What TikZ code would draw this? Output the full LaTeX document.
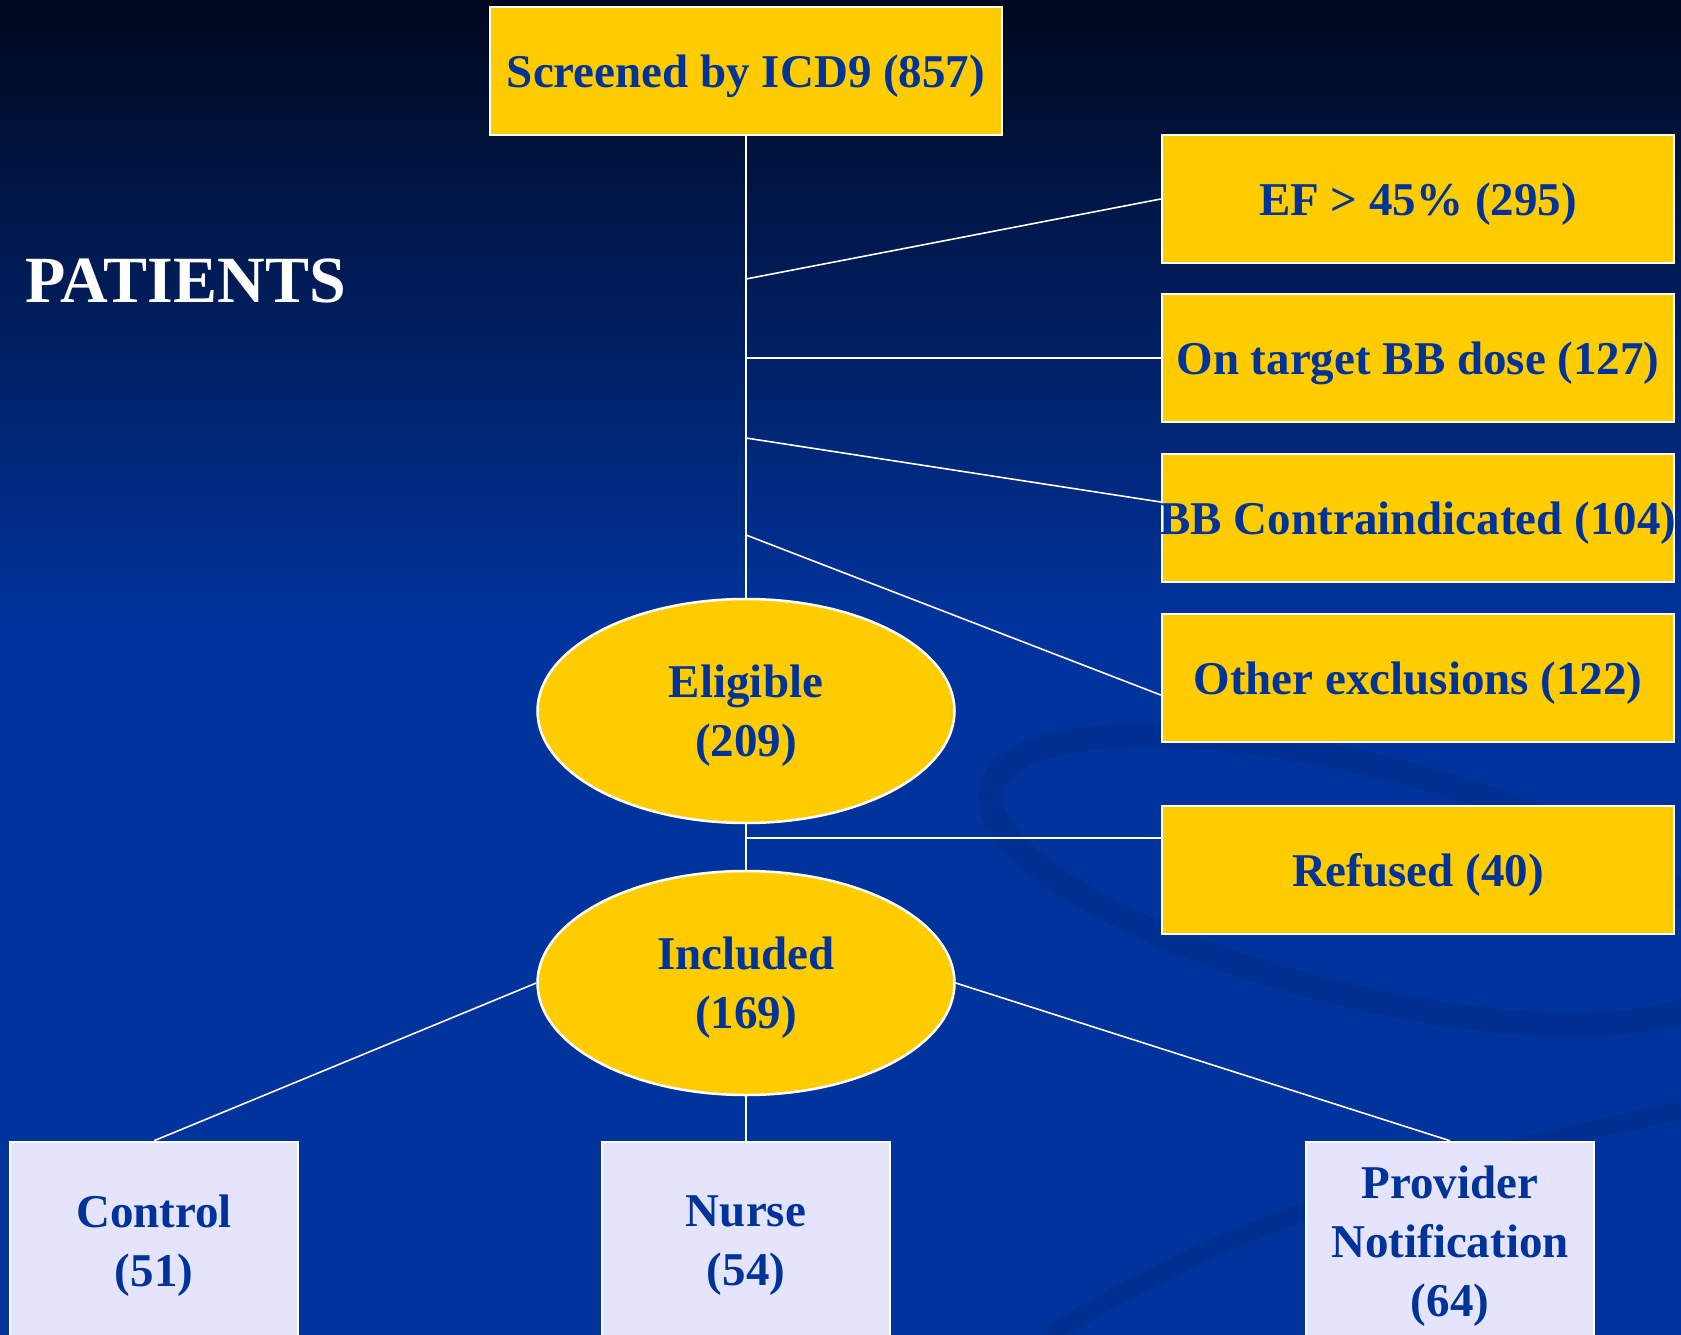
\documentclass[tikz,border=0pt]{standalone}
\usepackage{fontspec}
\setmainfont{Liberation Serif}
\usetikzlibrary{shapes.geometric, positioning, calc}

\definecolor{slideTop}{RGB}{0,8,30}
\definecolor{slideBlue}{RGB}{0,51,155}
\definecolor{swirlBlue}{RGB}{0,45,140}
\definecolor{stageYellow}{RGB}{255,204,0}
\definecolor{stageText}{RGB}{0,51,153}
\definecolor{armLilac}{RGB}{228,228,252}

\tikzset{
    stage/.style={draw=white, line width=2.5pt, fill=stageYellow, text=stageText,
        font=\bfseries\fontsize{47}{59}\selectfont, inner sep=0pt, align=center,
        text depth=0pt},
    stagebox/.style={stage, rectangle, minimum width=512pt, minimum height=128pt},
    stageoval/.style={stage, ellipse, minimum width=417pt, minimum height=224pt},
    armbox/.style={stage, rectangle, fill=armLilac, minimum width=288pt, minimum height=198pt},
    link/.style={draw=white, line width=1.6pt}
}

\begin{document}
\begin{tikzpicture}[%
    x=1pt, y=-1pt       % one unit = one pixel, y grows downward
]
    \useasboundingbox (0,0) rectangle (1681,1335);

    % ==========================================
    % 0. Slide background
    % ==========================================
    \fill[slideBlue] (0,0) rectangle (1681,1335);
    \shade[top color=slideTop, bottom color=slideBlue] (0,0) rectangle (1681,620);
    \draw[swirlBlue, opacity=0.55, line width=24pt, rotate around={-14:(1360,880)}]
        (1360,880) ellipse (380pt and 115pt);
    \draw[swirlBlue, opacity=0.55, line width=18pt]
        (1050,1335) .. controls (1250,1210) and (1450,1160) .. (1681,1110);

    \node[white, font=\bfseries\fontsize{66}{70}\selectfont, anchor=west] (title) at (22,281) {PATIENTS};

    % ==========================================
    % 1. Stages (Nodes)
    % ==========================================
    \node[stagebox] (screen)   at (746,71)   {Screened by ICD9 (857)};
    \node[stagebox] (ef)       at (1418,199) {EF > 45\% (295)};
    \node[stagebox] (target)   at (1418,358) {On target BB dose (127)};
    \node[stagebox] (bbci)     at (1418,518) {\makebox[505pt]{BB Contraindicated (104)}};
    \node[stagebox] (other)    at (1418,678) {Other exclusions (122)};
    \node[stageoval] (eligible) at (746,711) {Eligible\\(209)};
    \node[stagebox] (refused)  at (1418,870) {Refused (40)};
    \node[stageoval] (included) at (746,983) {Included\\(169)};

    \node[armbox] (control)  at (154,1241)  {Control\\(51)};
    \node[armbox] (nurse)    at (746,1241)  {Nurse\\(54)};
    \node[armbox] (provider) at (1450,1241) {Provider\\Notification\\(64)};

    % trunk points where the exclusions branch off
    \coordinate (tEF)      at (746,279);
    \coordinate (tTarget)  at (746,358);
    \coordinate (tBB)      at (746,438);
    \coordinate (tOther)   at (746,535);
    \coordinate (tRefused) at (746,838);

    % ==========================================
    % 2. Connectors
    % ==========================================
    \path[link]
        (screen) edge (eligible)
        (tEF) edge (ef.west)
        (tTarget) edge (target.west)
        (tBB) edge ([yshift=16pt]bbci.west)
        (tOther) edge ([yshift=-17pt]other.west)
        (eligible) edge (included)
        (tRefused) edge ([yshift=32pt]refused.west)
        (included.west) edge (control.north)
        (included) edge (nurse)
        (included.east) edge (provider.north);

\end{tikzpicture}
\end{document}
